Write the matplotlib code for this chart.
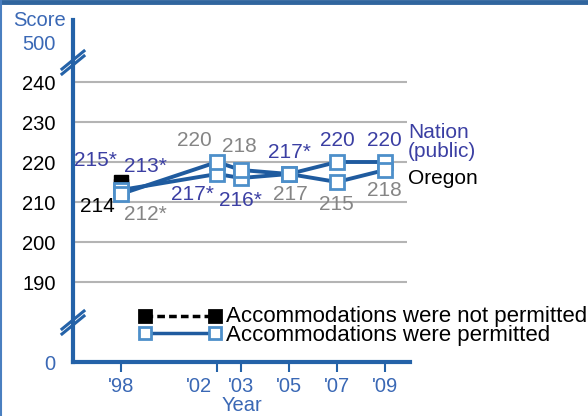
import matplotlib
matplotlib.use("Agg")
import matplotlib.pyplot as plt
from matplotlib.lines import Line2D
from matplotlib.transforms import ScaledTranslation

plt.rcParams['font.family'] = ['Liberation Sans', 'DejaVu Sans']

# data
years = [1998, 2002, 2003, 2005, 2007, 2009]
year_labels = ["'98", "'02", "'03", "'05", "'07", "'09"]
nation = [213, 217, 216, 217, 220, 220]
nation_txt = ["213*", "217*", "216*", "217*", "220", "220"]
oregon = [212, 220, 218, 217, 215, 218]
oregon_txt = ["212*", "220", "218", "217", "215", "218"]
# 1998, accommodations not permitted
np_year = 1998
np_nation = 215
np_oregon = 214

grid_vals = [190, 200, 210, 220, 230, 240]
legend_labels = ['Accommodations were not permitted', 'Accommodations were permitted']

# label offsets in pixels (dx, dy)
nation_off = [(24, 23), (-25, -21), (-1, -22), (0, 22), (0, 21), (-1, 21)]
oregon_off = [(24, -20), (-23, 22), (-2, 23), (1, -21), (-1, -22), (-1, -20)]

W, H = 588, 416
line_blue = '#1f5b9f'
mk_edge = '#4d8fca'
axis_blue = '#2462a8'
tick_blue = '#3a68b5'
val_blue = '#3b3fa3'
gray = '#858585'
fs = 14.5
fs_val = 15
fs_leg = 16


def px(x, y):
    return x / W, 1 - y / H


fig = plt.figure(figsize=(W / 100, H / 100), dpi=100)
ax = fig.add_axes([73 / W, (H - 362) / H, (410 - 73) / W, (362 - 20) / H])
ax.set_xlim(1996, 1996 + 337 / 24)
ax.set_ylim(170, 170 + 342 / 4)

for s in ['top', 'right']:
    ax.spines[s].set_visible(False)
for s in ['left', 'bottom']:
    ax.spines[s].set_color(axis_blue)
    ax.spines[s].set_linewidth(3)

ax.hlines(grid_vals, 1996.1, 2009.9, color='#b4b4b4', lw=1.5, zorder=1)

ax.set_yticks([170] + grid_vals + [250])
ax.set_yticklabels(['0'] + [str(v) for v in grid_vals] + ['500'], fontsize=fs)
ax.tick_params(axis='y', length=0, pad=12.5)
for lab in ax.get_yticklabels():
    lab.set_color('black')
ax.get_yticklabels()[0].set_color(tick_blue)
ax.get_yticklabels()[-1].set_color(tick_blue)

ax.set_xticks(years)
ax.set_xticklabels(year_labels, fontsize=fs, color=tick_blue)
ax.tick_params(axis='x', length=7, width=1.5, color=axis_blue, pad=4)
ax.set_xlabel('Year', fontsize=fs, color=tick_blue, labelpad=0)
# '02 sits left of its tick so it clears '03
lab02 = ax.get_xticklabels()[1]
lab02.set_transform(lab02.get_transform() + ScaledTranslation(-0.18, 0, fig.dpi_scale_trans))

# series
ax.plot(years, nation, color=line_blue, lw=2.8, zorder=3)
ax.plot(years, oregon, color=line_blue, lw=2.8, zorder=3)
ax.plot([np_year, np_year], [np_nation, np_oregon], ls='none', marker='s',
        ms=10, color='black', zorder=4)
ax.plot(years, nation, ls='none', marker='s', ms=10, mfc='white',
        mec=mk_edge, mew=2, zorder=5)
ax.plot(years, oregon, ls='none', marker='s', ms=10, mfc='white',
        mec=mk_edge, mew=2, zorder=5)

for x, y, t, (dx, dy) in zip(years, nation, nation_txt, nation_off):
    ax.annotate(t, (x, y), xytext=(dx, dy), textcoords='offset pixels',
                ha='center', va='center', fontsize=fs_val, color=val_blue)
for x, y, t, (dx, dy) in zip(years, oregon, oregon_txt, oregon_off):
    ax.annotate(t, (x, y), xytext=(dx, dy), textcoords='offset pixels',
                ha='center', va='center', fontsize=fs_val, color=gray)
ax.annotate(f"{np_nation}*", (np_year, np_nation), xytext=(-26, 22),
            textcoords='offset pixels', ha='center', va='center',
            fontsize=fs_val, color=val_blue)
ax.annotate(str(np_oregon), (np_year, np_oregon), xytext=(-24, -21),
            textcoords='offset pixels', ha='center', va='center',
            fontsize=fs_val, color='black')

# series names at right end
ax.annotate('Nation\n(public)', (years[-1], nation[-1]), xytext=(23, 20),
            textcoords='offset pixels', ha='left', va='center',
            fontsize=fs_val, color=val_blue, linespacing=1.05,
            annotation_clip=False)
ax.annotate('Oregon', (years[-1], oregon[-1]), xytext=(23, -9),
            textcoords='offset pixels', ha='left', va='center',
            fontsize=fs_val, color='black', annotation_clip=False)

# axis breaks
for yb in [60, 320]:
    for off in [0, 5]:
        x0, y0 = px(62, yb + 9 + off)
        x1, y1 = px(84, yb - 9 + off)
        fig.add_artist(Line2D([x0, x1], [y0, y1], color=axis_blue, lw=2.2))

# score caption
fig.text(*px(66, 20), 'Score', ha='right', va='center', fontsize=fs, color=tick_blue)

# legend: keys drawn as lines, both labels in one two-line text
legend_keys = [('black', (0, (2.2, 1.2)), 'black', 'black', 316),
               (line_blue, '-', 'white', mk_edge, 333)]
for lc, ls, mfc, mec, yy in legend_keys:
    x0, y0 = px(145, yy)
    x1, _ = px(215, yy)
    fig.add_artist(Line2D([x0, x1], [y0, y0], color=lc, ls=ls, lw=2.5,
                          marker='s', ms=9, mfc=mfc, mec=mec, mew=2))
fig.text(*px(226, 326), '\n'.join(legend_labels), ha='left', va='center',
         fontsize=fs_leg, color='black', linespacing=0.82)

# frame
fig.add_artist(Line2D([0, 1], [1 - 2 / H, 1 - 2 / H], color='#30659e', lw=3.5))
fig.add_artist(Line2D([0.5 / W, 0.5 / W], [0, 1], color='#4a7fc0', lw=1.5))

fig.savefig('out.png', dpi=100)
